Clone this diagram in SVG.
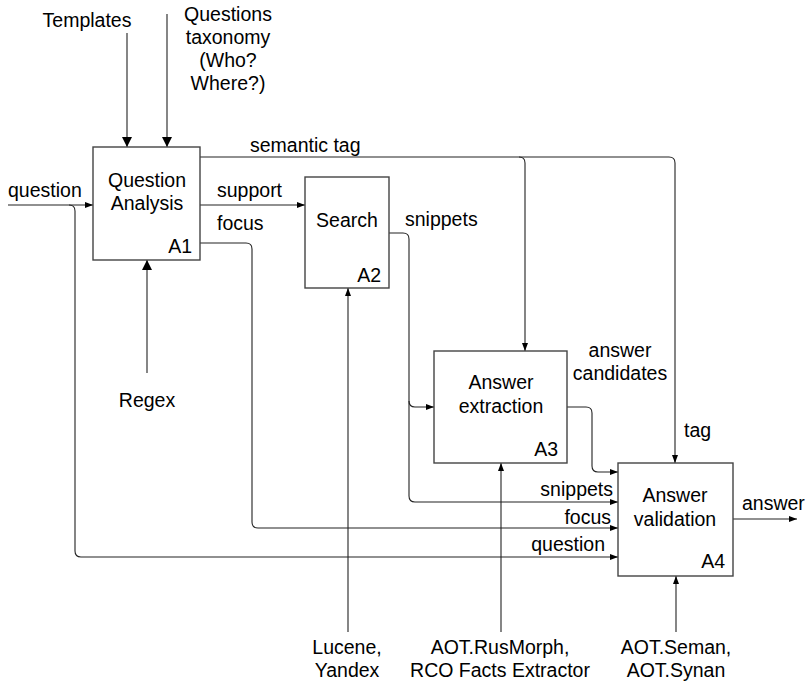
<svg xmlns="http://www.w3.org/2000/svg" width="808" height="682" viewBox="0 0 808 682">
<style>
text{font-family:"Liberation Sans",Arial,sans-serif;font-size:19.5px;fill:#000}
.m{text-anchor:middle}
.e{text-anchor:end}
.box{fill:#fff;stroke:#444;stroke-width:1.4}
.ln{fill:none;stroke:#222;stroke-width:1.1}
.big{marker-end:url(#ab)}
.sm{marker-end:url(#as)}
</style>
<defs>
<marker id="ab" markerUnits="userSpaceOnUse" markerWidth="12" markerHeight="12" refX="10" refY="5" orient="auto"><path d="M0,0 L10,5 L0,10 Z" fill="#000"/></marker>
<marker id="as" markerUnits="userSpaceOnUse" markerWidth="10" markerHeight="8" refX="8" refY="3" orient="auto"><path d="M0,0 L8,3 L0,6 Z" fill="#000"/></marker>
</defs>
<g id="connectors">
<path class="ln big" d="M127,33 V147"/>
<path class="ln big" d="M167,14 V147"/>
<path class="ln big" d="M147,373 V260"/>
<path class="ln sm" d="M8,205 H93"/>
<path class="ln sm" d="M69,205 Q75,205 75,211 V551 Q75,557 81,557 H618"/>
<path class="ln sm" d="M200,157 H669 Q675,157 675,163 V463"/>
<path class="ln sm" d="M519,157 Q525,157 525,163 V351"/>
<path class="ln sm" d="M200,205 H305"/>
<path class="ln sm" d="M200,243 H246 Q252,243 252,249 V522 Q252,528 258,528 H618"/>
<path class="ln sm" d="M389,233 H403 Q409,233 409,239 V496 Q409,502 415,502 H618"/>
<path class="ln sm" d="M409,401 Q409,407 415,407 H434"/>
<path class="ln sm" d="M567,407 H586 Q592,407 592,413 V466 Q592,472 598,472 H618"/>
<path class="ln sm" d="M733,519 H797"/>
<path class="ln sm" d="M348,632 V288"/>
<path class="ln sm" d="M501,632 V463"/>
<path class="ln sm" d="M676,632 V576"/>
</g>
<g id="A1">
<rect class="box" x="93" y="147" width="107" height="113"/>
<text class="m" x="147" y="187">Question</text>
<text class="m" x="147" y="210">Analysis</text>
<text class="e" x="192" y="253">A1</text>
</g>
<g id="A2">
<rect class="box" x="305" y="177" width="84" height="111"/>
<text class="m" x="347" y="227">Search</text>
<text class="e" x="381" y="282">A2</text>
</g>
<g id="A3">
<rect class="box" x="434" y="351" width="133" height="112"/>
<text class="m" x="501" y="389">Answer</text>
<text class="m" x="501" y="413">extraction</text>
<text class="e" x="558" y="456">A3</text>
</g>
<g id="A4">
<rect class="box" x="618" y="463" width="115" height="113"/>
<text class="m" x="675" y="502">Answer</text>
<text class="m" x="675" y="526">validation</text>
<text class="e" x="725" y="568">A4</text>
</g>
<g id="labels">
<text class="m" x="87" y="27">Templates</text>
<text class="m" x="228" y="21">Questions</text>
<text class="m" x="228" y="44">taxonomy</text>
<text class="m" x="228" y="67">(Who?</text>
<text class="m" x="228" y="90">Where?)</text>
<text x="8" y="197">question</text>
<text x="250" y="152">semantic tag</text>
<text x="217" y="197">support</text>
<text x="217" y="230">focus</text>
<text x="405" y="226">snippets</text>
<text class="m" x="147" y="407">Regex</text>
<text class="m" x="620" y="357">answer</text>
<text class="m" x="620" y="380">candidates</text>
<text x="684" y="437">tag</text>
<text class="e" x="613" y="496">snippets</text>
<text class="e" x="611" y="524">focus</text>
<text class="e" x="605" y="551">question</text>
<text x="742" y="510">answer</text>
<text class="m" x="347" y="654">Lucene,</text>
<text class="m" x="347" y="677">Yandex</text>
<text class="m" x="500" y="654">AOT.RusMorph,</text>
<text class="m" x="500" y="677">RCO Facts Extractor</text>
<text class="m" x="676" y="654">AOT.Seman,</text>
<text class="m" x="676" y="677">AOT.Synan</text>
</g>
</svg>
